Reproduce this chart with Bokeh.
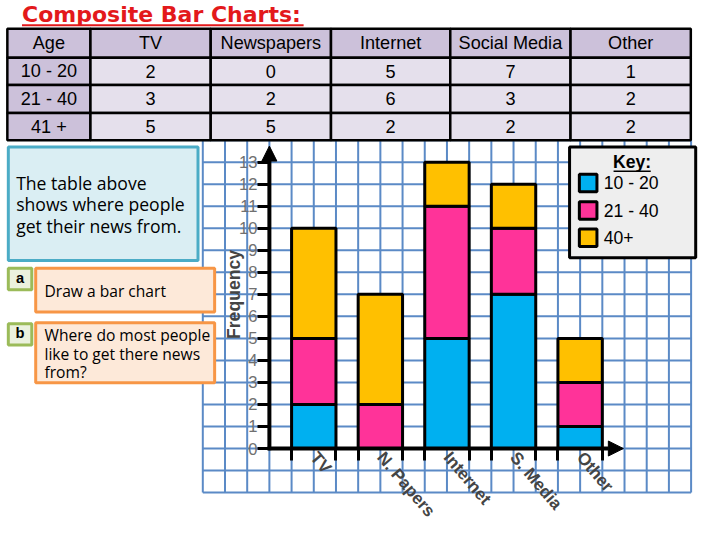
from bokeh.plotting import figure
from bokeh.models import Range1d, LinearAxis, FixedTicker, Arrow, NormalHead, ColumnDataSource
from bokeh.core.properties import value
from bokeh.embed import file_html
from bokeh.resources import INLINE

sources = ["TV", "Newspapers", "Internet", "Social Media", "Other"]
short_names = ["TV", "N. Papers", "Internet", "S. Media", "Other"]
ages = ["10 - 20", "21 - 40", "41 +"]
key_labels = ["10 - 20", "21 - 40", "40+"]
age_10_20 = [2, 0, 5, 7, 1]
age_21_40 = [3, 2, 6, 3, 2]
age_41_plus = [5, 5, 2, 2, 2]
colours = ["#00B0F0", "#FF3399", "#FFC000"]

# ---- layout, in pixels of the 720x540 sheet; one grid square = SQ px ----
SQ = 22.7
OX, OY = 275.0, 461.7
K = 704 / 720


def X(px):
    return (px - OX) / SQ


def Y(py):
    return (OY - py) / SQ


def fs(n):
    return "%.1fpx" % (n * K)


GRID = "#5B8AC6"
AXFONT = "Liberation Sans"
SANS = value(AXFONT)
HAND = value("Open Sans")

p = figure(width=704, height=524, x_range=Range1d(X(0), X(720)), y_range=Range1d(Y(540), Y(0)),
           x_axis_type=None, y_axis_type=None, toolbar_location=None, output_backend="svg",
           min_border=0, outline_line_color=None, background_fill_color="white")

# squared paper
gx = list(range(-3, 20))
gy = list(range(-2, 15))
p.segment(x0=gx, y0=-2, x1=gx, y1=14, line_color=GRID, line_width=2)
p.segment(x0=-3, y0=gy, x1=19, y1=gy, line_color=GRID, line_width=2)

# data table
col_x = [7, 92, 215, 338, 460, 583, 706]
row_y = [29, 59, 87, 116, 144]
rows = [["Age"] + sources] + [[a] + [str(v) for v in vals]
                              for a, vals in zip(ages, [age_10_20, age_21_40, age_41_plus])]
cl, cr, ct, cb, cf, tx, ty, tt = [], [], [], [], [], [], [], []
for r, row in enumerate(rows):
    for c, cell in enumerate(row):
        cl.append(X(col_x[c]))
        cr.append(X(col_x[c + 1]))
        ct.append(Y(row_y[r]))
        cb.append(Y(row_y[r + 1]))
        cf.append("#CCC1DA" if r == 0 or c == 0 else "#E5E0EC")
        tx.append(X((col_x[c] + col_x[c + 1]) / 2))
        ty.append(Y((row_y[r] + row_y[r + 1]) / 2))
        tt.append(cell)
p.quad(left=cl, right=cr, top=ct, bottom=cb, fill_color=cf, line_color="black", line_width=2.5)
p.text(x=tx, y=ty, text=tt, text_font=SANS, text_font_size=fs(18.5), text_color="black",
       text_align="center", text_baseline="middle")

# title
p.text(x=[X(22)], y=[Y(14)], text=["Composite Bar Charts:"], text_font=value("DejaVu Sans"),
       text_font_style="bold", text_font_size=fs(22.5), text_color="#E3191B", text_baseline="middle")
p.segment(x0=X(22), y0=Y(25.5), x1=X(310), y1=Y(25.5), line_color="#E3191B", line_width=2)

# instruction boxes
p.quad(left=[X(8)], right=[X(202)], top=[Y(151)], bottom=[Y(268)],
       fill_color="#DAEEF3", line_color="#4BACC6", line_width=3)
p.text(x=X(16), y=[Y(188), Y(210), Y(232)],
       text=["The table above", "shows where people", "get their news from."],
       text_font=HAND, text_font_size=fs(18), text_color="black", text_baseline="middle")

p.quad(left=[X(8), X(8)], right=[X(32), X(32)], top=[Y(276), Y(333)], bottom=[Y(298), Y(355)],
       fill_color="#EBF1DE", line_color="#9BBB59", line_width=3)
p.text(x=X(20), y=[Y(286), Y(343)], text=["a", "b"], text_font=SANS, text_font_style="bold",
       text_font_size=fs(15), text_align="center", text_baseline="middle")

p.quad(left=[X(36), X(36)], right=[X(219), X(219)], top=[Y(276), Y(332)], bottom=[Y(321), Y(394)],
       fill_color="#FDE9D9", line_color="#F79646", line_width=3)
p.text(x=X(45), y=[Y(299), Y(345), Y(364), Y(383)],
       text=["Draw a bar chart", "Where do most people", "like to get there news", "from?"],
       text_font=HAND, text_font_size=fs(16), text_color="black", text_baseline="middle")

# stacked bars
xpos = [3 * i + 2 for i in range(len(short_names))]
src = ColumnDataSource(dict(x=xpos, a=age_10_20, b=age_21_40, c=age_41_plus))
p.vbar_stack(["a", "b", "c"], x="x", width=2, source=src, fill_color=colours,
             line_color="black", line_width=3)

# axes drawn on the paper
yax = LinearAxis(fixed_location=0, ticker=FixedTicker(ticks=list(range(14))), bounds=(0, 14),
                 axis_line_alpha=0, major_tick_in=0, major_tick_out=12, major_tick_line_width=3,
                 minor_tick_line_color=None, major_label_standoff=0,
                 major_label_text_font=AXFONT, major_label_text_font_size=fs(17),
                 major_label_text_color="#707070",
                 axis_label="Frequency", axis_label_standoff=-8, axis_label_text_font=AXFONT,
                 axis_label_text_font_style="bold", axis_label_text_font_size=fs(18))
p.add_layout(yax, "left")

edges = [e for x in xpos for e in (x - 1, x + 1)]
xtick = LinearAxis(fixed_location=0, ticker=FixedTicker(ticks=edges), axis_line_alpha=0,
                   major_tick_in=0, major_tick_out=12, major_tick_line_width=3,
                   minor_tick_line_color=None, major_label_text_alpha=0)
p.add_layout(xtick, "below")

xlab = LinearAxis(fixed_location=0, ticker=FixedTicker(ticks=xpos), axis_line_alpha=0,
                  major_tick_line_color=None, minor_tick_line_color=None,
                  major_label_overrides={x: n for x, n in zip(xpos, short_names)},
                  major_label_orientation=-0.864, major_label_standoff=0,
                  major_label_text_font=AXFONT, major_label_text_font_style="bold",
                  major_label_text_font_size=fs(17.5))
p.add_layout(xlab, "below")

head = dict(size=15, fill_color="black", line_color="black")
p.add_layout(Arrow(end=NormalHead(**head), x_start=0, y_start=-0.08, x_end=0, y_end=Y(150),
                   line_width=4, line_color="black"))
p.add_layout(Arrow(end=NormalHead(**head), x_start=-0.08, y_start=0, x_end=X(637), y_end=0,
                   line_width=4, line_color="black"))

# key
p.quad(left=[X(582)], right=[X(711)], top=[Y(151)], bottom=[Y(265)],
       fill_color="#EEEEEE", line_color="black", line_width=3)
p.text(x=[X(646)], y=[Y(166)], text=["Key:"], text_font=SANS, text_font_style="bold",
       text_font_size=fs(18), text_align="center", text_baseline="middle")
p.segment(x0=X(627), y0=Y(176), x1=X(665), y1=Y(176), line_color="black", line_width=1.5)
key_y = [Y(188), Y(216.5), Y(244.5)]
p.rect(x=X(601), y=key_y, width=18 / SQ, height=18 / SQ, fill_color=colours,
       line_color="black", line_width=3)
p.text(x=X(617), y=key_y, text=key_labels, text_font=SANS, text_font_size=fs(18),
       text_baseline="middle")

open("out.html", "w").write(file_html(p, INLINE))
